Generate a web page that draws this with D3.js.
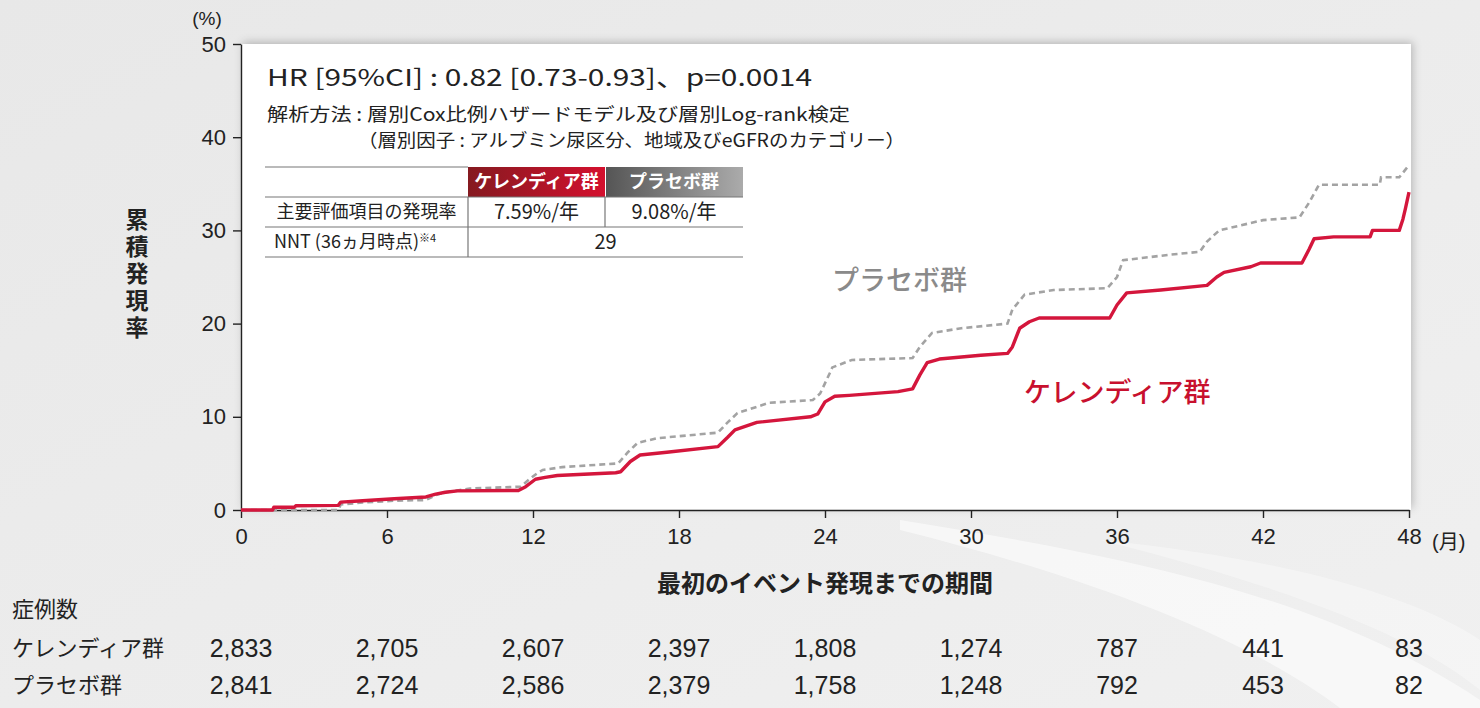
<!DOCTYPE html>
<html><head><meta charset="utf-8">
<script src="https://cdn.jsdelivr.net/npm/d3@7"></script>
<style>
html,body{margin:0;padding:0;background:#ececec;}
svg{display:block;}
text{font-family:"Liberation Sans","Noto Sans CJK JP",sans-serif;}
.jp{font-family:"Noto Sans CJK JP","Liberation Sans",sans-serif;}
</style></head>
<body>
<script>
// ---- data ----
const xTicks = [0, 6, 12, 18, 24, 30, 36, 42, 48];
const yTicks = [0, 10, 20, 30, 40, 50];
const kerendiaTime = [0,1.3,1.35,2.2,2.25,4.0,4.1,5.0,6.3,7.6,8.0,8.4,8.9,11.4,11.7,12.1,12.5,13.0,15.4,15.6,16.0,16.4,17.5,19.6,20.0,20.3,21.2,23.4,23.7,24.0,24.4,25.0,27.0,27.6,27.9,28.2,28.7,30.4,31.5,31.7,32.0,32.4,32.8,35.7,36.0,36.4,37.8,39.7,40.1,40.4,41.5,41.9,43.6,43.9,44.1,44.9,46.4,46.5,47.6,47.75,47.85,48.0];
const kerendiaPct  = [0,0,0.3,0.3,0.45,0.5,0.85,1.0,1.2,1.4,1.7,1.9,2.05,2.1,2.5,3.3,3.5,3.7,4.0,4.1,5.2,5.9,6.2,6.8,7.8,8.6,9.4,10.0,10.3,11.6,12.2,12.3,12.7,13.0,14.5,15.8,16.2,16.6,16.8,17.5,19.5,20.2,20.6,20.6,22.0,23.3,23.6,24.1,25.0,25.5,26.1,26.5,26.5,28.0,29.1,29.3,29.3,30.0,30.0,31.2,32.3,34.1];
const placeboTime = [0,4.0,4.1,5.0,6.3,7.6,8.0,8.4,9.4,11.5,11.8,12.2,12.4,13.2,15.5,15.9,16.3,17.1,19.6,20.0,20.4,21.7,23.5,23.8,24.2,24.3,25.1,27.6,27.9,28.4,29.6,31.5,31.7,32.2,33.4,35.6,36.0,36.25,38.2,39.4,39.7,40.2,42.0,43.5,43.9,44.3,46.8,46.85,47.6,48.0];
const placeboPct  = [0,0,0.6,0.8,1.0,1.07,1.6,1.9,2.3,2.5,3.2,4.0,4.3,4.6,5.0,6.2,7.2,7.7,8.3,9.4,10.4,11.5,11.8,12.5,14.7,15.3,16.1,16.3,17.5,19.0,19.5,20.0,21.5,23.1,23.6,23.8,25.0,26.8,27.4,27.7,28.8,30.0,31.1,31.4,33.0,34.9,34.9,35.7,35.7,37.0];
const riskKerendia = [2833, 2705, 2607, 2397, 1808, 1274, 787, 441, 83];
const riskPlacebo  = [2841, 2724, 2586, 2379, 1758, 1248, 792, 453, 82];
const groupNames = ["ケレンディア群", "プラセボ群"];
const tableRowLabels = ["主要評価項目の発現率", "NNT (36ヵ月時点)"];
const eventRates = ["7.59%/年", "9.08%/年"];
const nntValue = "29";

// ---- layout ----
const W = 1480, H = 708;
const svg = d3.select("body").append("svg").attr("width", W).attr("height", H);
const defs = svg.append("defs");

const bg = defs.append("linearGradient").attr("id","bg").attr("x1","0").attr("y1","0").attr("x2","1").attr("y2","1");
bg.append("stop").attr("offset","0").attr("stop-color","#e8e8e8");
bg.append("stop").attr("offset","1").attr("stop-color","#f0f0f0");
svg.append("rect").attr("width",W).attr("height",H).attr("fill","url(#bg)");
// swoosh
svg.append("path").attr("d","M900,520 C1150,560 1330,600 1480,700 L1480,708 L1340,708 C1250,640 1100,580 900,530 Z")
  .attr("fill","#ffffff").attr("opacity",0.55);
svg.append("path").attr("d","M1100,540 C1300,590 1420,640 1480,690 L1480,640 C1420,600 1300,560 1100,540 Z")
  .attr("fill","#ffffff").attr("opacity",0.35);

const sh = defs.append("filter").attr("id","sh").attr("x","-5%").attr("y","-10%").attr("width","110%").attr("height","120%");
sh.append("feDropShadow").attr("dx",2).attr("dy",-2).attr("stdDeviation",4).attr("flood-color","#000").attr("flood-opacity",0.22);

const x = d3.scaleLinear().domain([0, 48]).range([241, 1409]);
const y = d3.scaleLinear().domain([0, 50]).range([510, 44]);

svg.append("rect").attr("x",x(0)).attr("y",y(50)).attr("width",x(48)-x(0)+2).attr("height",y(0)-y(50))
  .attr("fill","#fff").attr("filter","url(#sh)");

// axes
const yAxis = svg.append("g").attr("transform",`translate(${x(0)},0)`)
  .call(d3.axisLeft(y).tickValues(yTicks).tickSize(8).tickSizeOuter(0).tickPadding(7));
const xAxis = svg.append("g").attr("transform",`translate(0,${y(0)})`)
  .call(d3.axisBottom(x).tickValues(xTicks).tickSize(8).tickSizeOuter(0).tickPadding(10));
[yAxis, xAxis].forEach(g => {
  g.selectAll("path,line").attr("stroke","#222").attr("stroke-width",1.4);
  g.selectAll("text").attr("font-size",22).attr("fill","#222").style("font-family","Liberation Sans");
});
svg.append("text").attr("x",207).attr("y",25).attr("text-anchor","middle").attr("font-size",19).attr("fill","#222").text("(%)");
svg.append("text").attr("x",1432).attr("y",549).attr("font-size",20).attr("fill","#222").text("(月)");

// axis titles
svg.append("text").attr("class","jp").attr("x",137).attr("y",208)
  .style("writing-mode","vertical-rl").style("text-orientation","upright").style("letter-spacing","4px")
  .attr("font-size",23).attr("font-weight","bold").attr("fill","#222").text("累積発現率");
svg.append("text").attr("class","jp").attr("x",825).attr("y",592).attr("text-anchor","middle").attr("font-size",24).attr("font-weight","bold").attr("fill","#222").text("最初のイベント発現までの期間");

// curves
const line = d3.line().x(d=>x(d[0])).y(d=>y(d[1]));
const plac = placeboTime.map((t,i)=>[t, placeboPct[i]]);
const ker = kerendiaTime.map((t,i)=>[t, kerendiaPct[i]]);
svg.append("path").attr("d", line(plac)).attr("fill","none").attr("stroke","#a3a3a3").attr("stroke-width",2.6).attr("stroke-dasharray","6,4");
svg.append("path").attr("d", line(ker)).attr("fill","none").attr("stroke","#d4163c").attr("stroke-width",3.4).attr("stroke-linejoin","round");

// series labels
svg.append("text").attr("class","jp").attr("x",832).attr("y",290).attr("font-size",27).attr("font-weight",500).attr("fill","#8a8a8a").text(groupNames[1]);
svg.append("text").attr("class","jp").attr("x",1024).attr("y",402).attr("font-size",27).attr("font-weight",500).attr("fill","#c8102e").text(groupNames[0]);

// annotations
svg.append("text").attr("x",267).attr("y",86).attr("font-size",23).attr("fill","#222").attr("class","jp")
  .attr("textLength",545).attr("lengthAdjust","spacingAndGlyphs")
  .text("HR [95%CI] : 0.82 [0.73-0.93]、p=0.0014");
svg.append("text").attr("x",267).attr("y",121).attr("font-size",18).attr("fill","#222").attr("class","jp")
  .attr("textLength",583).attr("lengthAdjust","spacingAndGlyphs")
  .text("解析方法 : 層別Cox比例ハザードモデル及び層別Log-rank検定");
svg.append("text").attr("x",358).attr("y",147).attr("font-size",18).attr("fill","#222").attr("class","jp")
  .attr("textLength",547).attr("lengthAdjust","spacingAndGlyphs")
  .text("（層別因子 : アルブミン尿区分、地域及びeGFRのカテゴリー）");

// table
const tX = [265, 468, 605, 743], tY = [167, 197, 227, 257];
const gR = defs.append("linearGradient").attr("id","gR");
gR.append("stop").attr("offset","0").attr("stop-color","#851a20");
gR.append("stop").attr("offset","1").attr("stop-color","#d4102e");
const gG = defs.append("linearGradient").attr("id","gG");
gG.append("stop").attr("offset","0").attr("stop-color","#555");
gG.append("stop").attr("offset","1").attr("stop-color","#ababab");
svg.append("rect").attr("x",tX[1]).attr("y",tY[0]).attr("width",tX[2]-tX[1]).attr("height",tY[1]-tY[0]).attr("fill","url(#gR)");
svg.append("rect").attr("x",tX[2]+1).attr("y",tY[0]).attr("width",tX[3]-tX[2]-1).attr("height",tY[1]-tY[0]).attr("fill","url(#gG)");
const tl = svg.append("g").attr("stroke","#777").attr("stroke-width",1.2);
tl.append("line").attr("x1",tX[0]).attr("x2",tX[1]).attr("y1",tY[0]).attr("y2",tY[0]);
[1,2,3].forEach(i=> tl.append("line").attr("x1",tX[0]).attr("x2",tX[3]).attr("y1",tY[i]).attr("y2",tY[i]));
tl.append("line").attr("x1",tX[1]).attr("x2",tX[1]).attr("y1",tY[1]).attr("y2",tY[3]);
tl.append("line").attr("x1",tX[2]).attr("x2",tX[2]).attr("y1",tY[1]).attr("y2",tY[2]);
const cellText = (cx, cy, s, opts={}) => svg.append("text").attr("class","jp").attr("x",cx).attr("y",cy).attr("dy","0.36em")
  .attr("text-anchor", opts.anchor||"middle").attr("font-size", opts.fs||18).attr("font-weight", opts.fw||"normal")
  .attr("fill", opts.fill||"#222").text(s);
cellText((tX[1]+tX[2])/2, (tY[0]+tY[1])/2, groupNames[0], {fill:"#fff", fw:"bold"});
cellText((tX[2]+tX[3])/2, (tY[0]+tY[1])/2, groupNames[1], {fill:"#fff", fw:"bold"});
cellText((tX[0]+tX[1])/2, (tY[1]+tY[2])/2, tableRowLabels[0]);
cellText((tX[1]+tX[2])/2, (tY[1]+tY[2])/2, eventRates[0], {fs:20});
cellText((tX[2]+tX[3])/2, (tY[1]+tY[2])/2, eventRates[1], {fs:20});
const nntT = cellText(tX[0]+9, (tY[2]+tY[3])/2, tableRowLabels[1], {anchor:"start"});
nntT.append("tspan").attr("font-size",11).attr("dy","-0.6em").text("※4");
cellText((tX[1]+tX[3])/2, (tY[2]+tY[3])/2, nntValue, {fs:20});

// risk table
const fmt = d3.format(",");
svg.append("text").attr("class","jp").attr("x",12).attr("y",617).attr("font-size",22).attr("fill","#222").text("症例数");
[[riskKerendia, 648], [riskPlacebo, 685]].forEach(([arr, cy], k) => {
  svg.append("text").attr("class","jp").attr("x",12).attr("y",cy).attr("dy","0.36em").attr("font-size",22).attr("fill","#222").text(groupNames[k]);
  svg.append("g").selectAll("text").data(arr).join("text")
    .attr("x",(d,i)=>x(xTicks[i])).attr("y",cy).attr("dy","0.36em").attr("text-anchor","middle")
    .attr("font-size",25).attr("fill","#222").text(d=>fmt(d));
});
</script>
</body></html>
